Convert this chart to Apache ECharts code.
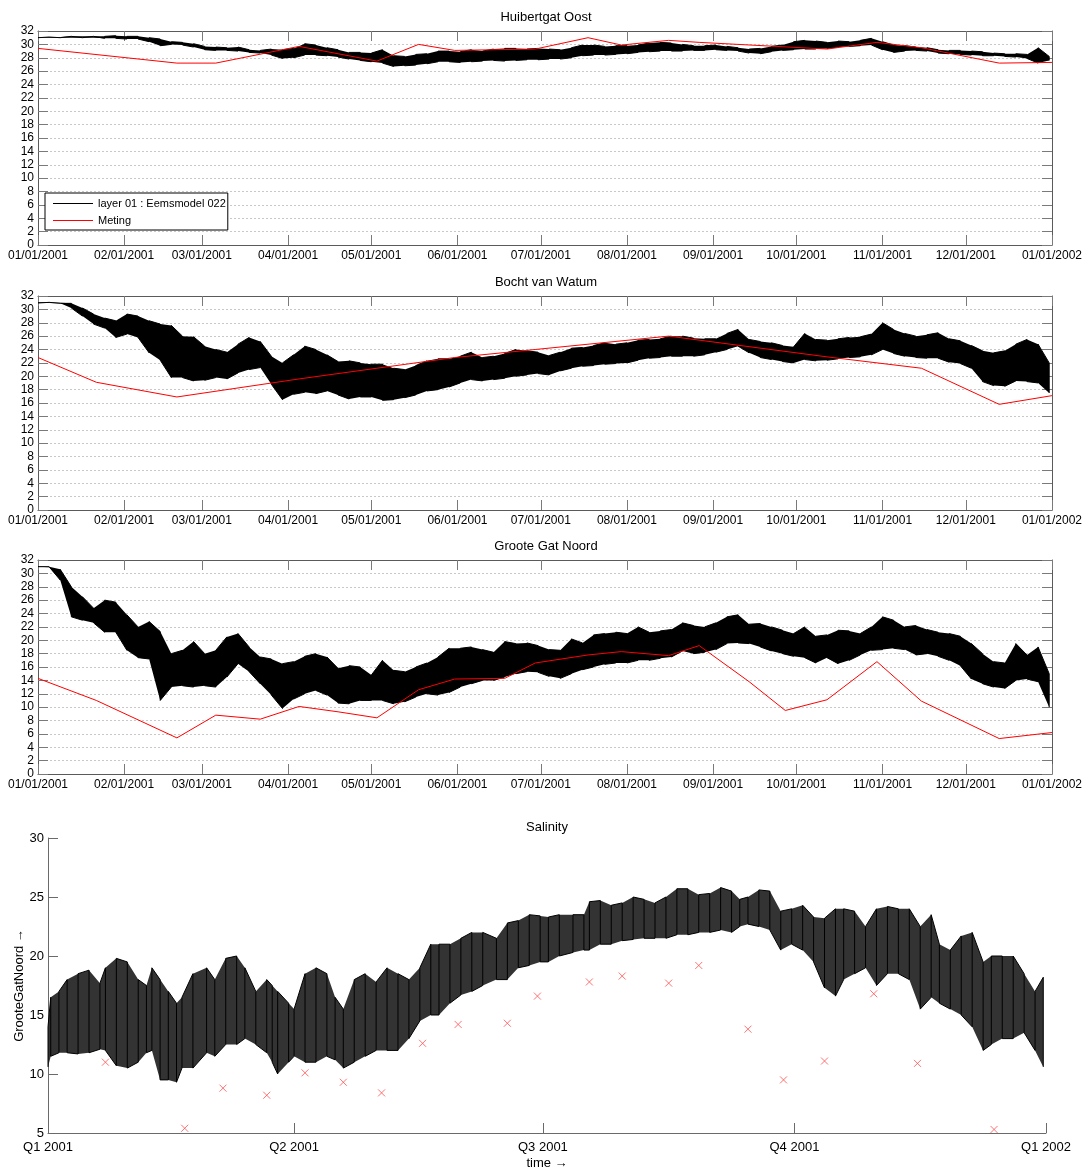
<!DOCTYPE html>
<html>
<head>
<meta charset="utf-8">
<script src="https://cdn.jsdelivr.net/npm/echarts@6/dist/echarts.min.js"></script>
<style>
  html, body { margin: 0; padding: 0; background: #fff; }
  #chart { width: 1085px; height: 1172px; }
</style>
</head>
<body>
<div id="chart"></div>
<script>
// ---- time frame (x values are UTC milliseconds) --------------------------
const DAY = 86400000;
const T0 = Date.UTC(2001, 0, 1);
const T1 = Date.UTC(2002, 0, 1);

const monthTicks = ['2001-01-01','2001-02-01','2001-03-01','2001-04-01','2001-05-01','2001-06-01',
  '2001-07-01','2001-08-01','2001-09-01','2001-10-01','2001-11-01','2001-12-01','2002-01-01'];
const quarterTicks = ['2001-01-01','2001-04-01','2001-07-01','2001-10-01','2002-01-01'];
const quarterLabels = ['Q1 2001','Q2 2001','Q3 2001','Q4 2001','Q1 2002'];

// ---- model output: low / high envelope of the tidal signal, per sample day
const sampleDays = [0,4,8,12,16,20,24,28,32,36,40,44,48,52,56,60,64,68,72,76,80,84,88,92,96,100,
  104,108,112,116,120,124,128,132,136,140,144,148,152,156,160,164,168,172,176,180,184,188,192,196,
  200,204,208,212,216,220,224,228,232,236,240,244,248,252,256,260,264,268,272,276,280,284,288,292,
  296,300,304,308,312,316,320,324,328,332,336,340,344,348,352,356,360,364];

// Huibertgat Oost
const hoLo = [31.0,31.0,31.0,31.0,31.0,31.0,30.9,30.9,30.8,30.8,
  30.4,29.8,30.0,29.9,29.6,29.2,29.1,29.1,29.0,28.8,
  28.7,28.4,27.9,28.0,28.4,28.4,28.3,28.1,27.8,27.6,
  27.4,27.2,26.7,26.8,26.9,27.1,27.4,27.4,27.3,27.4,
  27.5,27.6,27.5,27.6,27.7,27.7,27.8,27.8,28.0,28.3,
  28.4,28.4,28.5,28.6,28.8,28.9,29.0,29.0,29.0,29.1,
  29.1,29.2,29.1,29.0,28.7,28.6,28.9,29.1,29.2,29.3,
  29.3,29.4,29.6,29.7,29.8,29.9,29.2,28.8,29.0,29.1,
  29.0,28.7,28.6,28.5,28.4,28.3,28.3,28.2,28.1,27.9,
  27.2,27.6];
const hoHi = [31.05,31.1,31.1,31.2,31.2,31.2,31.2,31.3,31.2,31.2,
  31.0,30.8,30.4,30.3,30.1,29.7,29.6,29.5,29.6,29.2,
  29.1,29.3,29.2,29.4,30.1,29.9,29.5,29.2,28.8,28.8,
  28.7,29.2,28.3,28.2,28.5,28.6,29.0,29.0,28.9,29.2,
  29.0,29.3,29.4,29.4,29.3,29.4,29.3,29.2,29.5,29.9,
  29.9,29.7,29.8,29.8,29.9,30.2,30.3,30.2,30.0,29.8,
  29.8,29.9,29.7,29.5,29.3,29.4,29.7,29.9,30.4,30.6,
  30.5,30.3,30.5,30.4,30.6,30.9,30.4,29.9,29.8,29.6,
  29.5,29.2,29.1,29.1,29.0,28.9,28.7,28.6,28.6,28.5,
  29.5,28.2];

// Bocht van Watum
const bwLo = [30.95,30.95,30.9,30.2,29.0,27.8,27.2,25.8,26.3,25.8,
  23.5,22.4,19.8,19.8,19.3,19.4,19.8,19.6,20.5,21.0,
  21.3,18.8,16.5,17.3,17.6,17.4,17.8,17.2,16.6,16.9,
  16.9,16.4,16.5,16.8,17.2,17.8,18.0,18.4,19.0,19.5,
  19.3,19.5,19.7,20.0,20.2,20.4,20.2,20.8,21.2,21.5,
  21.6,21.8,21.9,22.0,22.4,22.7,22.8,23.0,23.0,23.0,
  23.2,23.6,24.0,24.5,23.5,22.8,22.5,22.2,22.0,22.5,
  22.3,22.4,22.6,22.8,22.9,23.2,24.0,23.4,23.0,22.8,
  22.7,22.7,22.1,21.9,21.2,19.2,18.6,18.5,19.3,19.2,
  19.0,17.5];
const bwHi = [31.05,31.05,31.0,30.9,30.2,29.3,28.7,28.3,29.3,29.0,
  28.3,27.8,27.6,26.0,25.9,24.5,24.0,23.6,24.8,25.8,
  25.2,23.0,22.0,23.2,24.5,24.0,23.2,22.2,22.3,22.0,
  21.8,21.8,21.2,21.0,21.6,22.3,22.6,22.6,23.0,23.6,
  22.8,23.0,23.4,24.0,23.8,23.6,23.1,23.6,24.2,24.3,
  24.6,25.0,24.8,25.0,25.4,25.5,25.6,26.0,26.0,25.7,
  25.6,25.6,26.4,27.0,25.5,25.2,25.0,24.6,24.4,26.4,
  25.5,25.4,25.6,25.8,25.9,26.3,28.0,27.0,26.4,26.0,
  26.2,26.5,25.6,25.3,24.6,23.8,23.5,23.8,24.8,25.5,
  24.8,22.0];

// Groote Gat Noord
const ggLo = [31.0,30.9,29.0,23.5,23.0,22.6,21.2,21.2,18.5,17.4,
  17.2,11.0,13.0,13.2,13.0,13.2,13.0,14.5,16.5,15.3,
  13.5,11.8,9.8,11.2,12.0,12.5,11.8,10.6,10.5,11.0,
  11.0,11.0,10.5,10.8,11.5,12.0,11.8,12.2,13.0,13.5,
  14.0,14.0,14.5,15.0,15.3,15.2,14.6,14.3,15.0,15.6,
  16.0,16.4,16.6,16.6,17.0,17.0,17.3,17.5,18.4,18.0,
  18.2,18.6,19.5,19.6,19.5,19.0,18.4,18.0,17.6,17.4,
  16.6,17.4,16.5,17.0,17.8,18.5,18.6,18.8,18.6,17.8,
  18.0,17.6,17.0,16.2,14.2,13.5,13.0,12.8,14.0,14.2,
  13.8,10.0];
const ggHi = [31.05,31.0,30.6,28.0,26.5,24.8,26.0,25.7,23.8,22.0,
  22.8,21.3,18.0,18.5,19.8,18.0,18.5,20.5,21.0,19.0,
  17.5,17.2,16.5,16.8,17.6,18.0,17.5,15.8,16.2,16.0,
  14.8,17.0,15.5,15.3,16.0,16.6,17.5,18.8,18.8,19.0,
  18.6,18.2,19.8,19.5,19.6,19.2,18.6,18.5,20.2,19.6,
  20.8,21.0,21.2,21.0,22.0,21.2,21.4,21.6,22.6,22.2,
  22.0,22.6,23.5,23.8,22.4,22.5,22.0,21.5,21.0,22.0,
  20.6,20.8,21.5,21.4,21.0,22.0,23.5,23.0,22.0,22.2,
  21.6,21.2,21.0,20.6,19.5,18.0,16.8,16.6,19.5,17.8,
  19.0,15.0];

// Salinity run at GrooteGatNoord (bottom panel)
const salDays = [0,1,4,7,11,15,19,21,25,29,33,36,38,41,44,47,49,53,58,61,
  65,69,72,76,80,82,84,88,90,94,98,102,105,108,112,116,120,124,128,132,
  136,140,143,147,151,155,159,164,168,172,176,180,183,187,192,196,198,202,206,210,
  214,218,222,226,230,234,238,242,246,250,253,256,260,264,268,272,276,280,284,288,
  291,295,299,303,307,311,315,319,323,326,330,334,338,342,345,349,353,357,361,364];
const salLo = [10.6,11.5,11.8,11.8,11.7,11.8,12.1,12.0,10.7,10.5,
  11.0,11.8,12.0,9.5,9.5,9.3,10.5,10.5,11.8,11.5,
  12.5,12.5,13.0,12.5,11.8,11.0,10.0,11.0,11.5,11.0,
  11.0,11.5,11.2,10.5,11.0,11.5,12.0,12.0,12.0,13.0,
  14.5,15.0,15.0,16.0,16.7,17.0,17.5,18.0,18.0,19.0,
  19.2,19.5,19.5,20.0,20.3,20.5,20.5,21.0,21.0,21.3,
  21.4,21.5,21.5,21.5,21.8,21.8,22.0,22.0,22.2,22.0,
  22.5,22.7,22.5,22.2,20.5,21.0,20.5,19.5,17.3,16.6,
  18.0,18.5,19.0,17.5,18.5,18.5,18.0,15.5,16.5,16.0,
  15.5,15.0,14.0,12.0,12.5,13.0,13.0,13.5,12.0,10.6];
const salHi = [14.0,16.5,17.0,18.0,18.5,18.8,17.7,19.0,19.8,19.5,
  18.0,17.5,19.0,18.0,17.0,16.0,16.5,18.5,19.0,18.0,
  19.8,20.0,19.0,17.0,18.0,17.5,17.0,16.0,15.5,18.5,
  19.0,18.5,16.5,15.5,18.0,18.5,17.8,19.0,18.5,18.0,
  19.0,21.0,21.0,21.0,21.5,22.0,22.0,21.5,22.8,23.0,
  23.5,23.4,23.3,23.5,23.5,23.5,24.6,24.7,24.3,24.5,
  25.0,24.8,24.5,25.0,25.7,25.7,25.2,25.3,25.8,25.5,
  24.8,25.0,25.6,25.5,23.8,24.0,24.3,23.3,23.2,24.0,
  24.0,23.8,22.5,24.0,24.2,24.0,24.0,22.5,23.5,21.0,
  20.5,21.7,22.0,19.5,20.0,20.0,20.0,18.5,17.0,18.2];

// ---- measurements ("Meting") -----------------------------------------
const hoMetDates = ['2001-01-01','2001-02-20','2001-03-06','2001-04-05','2001-05-03','2001-05-18',
  '2001-05-31','2001-06-29','2001-07-18','2001-07-30','2001-08-16','2001-08-27','2001-10-12',
  '2001-10-30','2001-11-15','2001-12-13','2002-01-01'];
const hoMetVals = [29.4,27.2,27.2,29.7,27.5,30.0,29.1,29.3,31.0,29.9,30.6,30.3,29.3,30.3,29.5,27.2,27.3];

const bwMetDates = ['2001-01-01','2001-01-22','2001-02-20','2001-04-05','2001-05-03','2001-05-31',
  '2001-06-29','2001-08-16','2001-10-12','2001-11-15','2001-12-13','2002-01-01'];
const bwMetVals = [22.8,19.1,16.9,19.6,21.2,22.8,24.0,26.0,22.9,21.2,15.8,17.1];

const ggMetDates = ['2001-01-22','2001-02-20','2001-03-06','2001-03-22','2001-04-05','2001-04-19',
  '2001-05-03','2001-05-18','2001-05-31','2001-06-18','2001-06-29','2001-07-18','2001-07-30',
  '2001-08-16','2001-08-27','2001-09-14','2001-09-27','2001-10-12','2001-10-30','2001-11-15',
  '2001-12-13'];
const ggMetVals = [11.0,5.4,8.8,8.2,10.1,9.3,8.4,12.6,14.2,14.3,16.6,17.8,18.3,17.7,19.2,13.8,9.5,
  11.1,16.8,10.9,5.3];
// line ends drawn in the Groote Gat Noord panel
const ggLineStart = ['2001-01-01', 14.3];
const ggLineEnd = ['2002-01-01', 6.2];

// ---- helpers ------------------------------------------------------------
const FONT = '"Liberation Sans", Arial, Helvetica, sans-serif';
const ts = d => T0 + d * DAY;
const dateTs = s => { const p = s.split('-').map(Number); return Date.UTC(p[0], p[1] - 1, p[2]); };
const pad2 = n => (n < 10 ? '0' : '') + n;
const fmtDate = v => { const d = new Date(v); return pad2(d.getUTCMonth() + 1) + '/' + pad2(d.getUTCDate()) + '/' + d.getUTCFullYear(); };
const monthTs = monthTicks.map(dateTs);
const quarterTs = quarterTicks.map(dateTs);

// filled envelope between low and high values
function bandSeries(axisIdx, days, lo, hi, fill) {
  return {
    type: 'custom', name: 'band', xAxisIndex: axisIdx, yAxisIndex: axisIdx, silent: true, z: 2,
    data: [[ts(days[0]), lo[0]]],
    renderItem: function (params, api) {
      const top = days.map((d, i) => api.coord([ts(d), hi[i]]));
      const bot = days.map((d, i) => api.coord([ts(d), lo[i]])).reverse();
      return { type: 'polygon', shape: { points: top.concat(bot) }, style: { fill: fill, stroke: null } };
    }
  };
}
// tidal strokes: vertical low-high segment at every sample
function strokeSeries(axisIdx, days, lo, hi, color) {
  const pts = [];
  days.forEach((d, i) => {
    const t = ts(d);
    if (i % 2 === 0) { pts.push([t, lo[i]], [t, hi[i]]); } else { pts.push([t, hi[i]], [t, lo[i]]); }
  });
  return {
    type: 'line', name: 'layer 01 : Eemsmodel 022', xAxisIndex: axisIdx, yAxisIndex: axisIdx,
    data: pts, showSymbol: false, symbol: 'none', z: 3, color: '#000',
    lineStyle: { color: color, width: 1 }
  };
}
function metLine(axisIdx, dates, vals) {
  return {
    type: 'line', name: 'Meting', xAxisIndex: axisIdx, yAxisIndex: axisIdx, z: 4,
    data: dates.map((s, i) => [dateTs(s), vals[i]]), showSymbol: false, symbol: 'none',
    color: '#ff0000', lineStyle: { color: '#ff0000', width: 1 }
  };
}

// ---- layout -------------------------------------------------------------
const stackTops = [31, 296, 560];
const stackTitles = ['Huibertgat Oost', 'Bocht van Watum', 'Groote Gat Noord'];
const frameColor = '#5a5a5a';
const tickColor = '#7a7a7a';

const grids = stackTops.map(t => ({ left: 38, top: t, width: 1017, height: 214 }));
grids.push({ left: 48, top: 838, width: 998, height: 295 });

const xAxes = [], yAxes = [];
stackTops.forEach((t, g) => {
  const base = {
    type: 'value', gridIndex: g, min: T0, max: T1,
    axisLine: { show: true, onZero: false, lineStyle: { color: frameColor, width: 1 } },
    axisTick: { show: true, inside: true, length: 10, customValues: monthTs, lineStyle: { color: tickColor, width: 1 } },
    splitLine: { show: false }
  };
  xAxes.push(Object.assign({}, base, {
    position: 'bottom',
    axisLabel: { show: true, customValues: monthTs, formatter: fmtDate, fontSize: 12, fontFamily: FONT, color: '#000', margin: 5 }
  }));
  xAxes.push(Object.assign({}, base, { position: 'top', axisLabel: { show: false } }));
  const ybase = {
    type: 'value', gridIndex: g, min: 0, max: 32, interval: 2,
    axisLine: { show: true, onZero: false, lineStyle: { color: frameColor, width: 1 } },
    axisTick: { show: true, inside: true, length: 10, lineStyle: { color: tickColor, width: 1 } }
  };
  yAxes.push(Object.assign({}, ybase, {
    position: 'left',
    axisLabel: { fontSize: 12, fontFamily: FONT, color: '#000', margin: 4 },
    splitLine: { show: true, lineStyle: { color: '#c8c8c8', width: 1, type: [2, 2] } }
  }));
  yAxes.push(Object.assign({}, ybase, { position: 'right', axisLabel: { show: false }, splitLine: { show: false } }));
});
// bottom panel axes
xAxes.push({
  type: 'value', gridIndex: 3, min: T0, max: T1, position: 'bottom',
  name: 'time \u2192', nameLocation: 'middle', nameGap: 24, nameMoveOverlap: false,
  nameTextStyle: { fontSize: 13, fontFamily: FONT, color: '#000' },
  axisLine: { show: true, onZero: false, lineStyle: { color: '#6a6a6a', width: 1 } },
  axisTick: { show: true, inside: true, length: 10, customValues: quarterTs, lineStyle: { color: '#6a6a6a' } },
  axisLabel: {
    customValues: quarterTs, fontSize: 13, fontFamily: FONT, color: '#000', margin: 8,
    formatter: v => quarterLabels[quarterTs.indexOf(v)] || ''
  },
  splitLine: { show: false }
});
yAxes.push({
  type: 'value', gridIndex: 3, min: 5, max: 30, interval: 5, position: 'left',
  name: 'GrooteGatNoord \u2192', nameLocation: 'middle', nameGap: 22, nameRotate: 90, nameMoveOverlap: false,
  nameTextStyle: { fontSize: 13, fontFamily: FONT, color: '#000' },
  axisLine: { show: true, onZero: false, lineStyle: { color: '#6a6a6a', width: 1 } },
  axisTick: { show: true, inside: true, length: 10, lineStyle: { color: '#6a6a6a' } },
  axisLabel: { fontSize: 13, fontFamily: FONT, color: '#000', margin: 4 },
  splitLine: { show: false }
});

// ---- series ---------------------------------------------------------------
const series = [
  bandSeries(0, sampleDays, hoLo, hoHi, '#000'),
  strokeSeries(0, sampleDays, hoLo, hoHi, '#000'),
  metLine(0, hoMetDates, hoMetVals),

  bandSeries(2, sampleDays, bwLo, bwHi, '#000'),
  strokeSeries(2, sampleDays, bwLo, bwHi, '#000'),
  metLine(2, bwMetDates, bwMetVals),

  bandSeries(4, sampleDays, ggLo, ggHi, '#000'),
  strokeSeries(4, sampleDays, ggLo, ggHi, '#000'),
  metLine(4, [ggLineStart[0]].concat(ggMetDates, [ggLineEnd[0]]), [ggLineStart[1]].concat(ggMetVals, [ggLineEnd[1]])),

  bandSeries(6, salDays, salLo, salHi, '#333'),
  strokeSeries(6, salDays, salLo, salHi, '#000'),
  {
    type: 'scatter', name: 'Meting', xAxisIndex: 6, yAxisIndex: 6, z: 5,
    data: ggMetDates.map((s, i) => [dateTs(s), ggMetVals[i]]),
    symbol: 'path://M0,0L10,10M10,0L0,10', symbolSize: 7,
    itemStyle: { color: 'rgba(0,0,0,0)', borderColor: '#ff5050', borderWidth: 1 }
  }
];

const titleStyle = { fontSize: 13, fontWeight: 'normal', fontFamily: FONT, color: '#000' };
const titles = stackTitles.map((txt, g) => ({
  text: txt, left: 546, top: stackTops[g] - 20, textAlign: 'center', padding: 0, textStyle: titleStyle
}));
titles.push({ text: 'Salinity', left: 547, top: 821, textAlign: 'center', padding: 0, textStyle: titleStyle });

const chart = echarts.init(document.getElementById('chart'), null, { renderer: 'canvas' });
chart.setOption({
  animation: false,
  backgroundColor: '#fff',
  textStyle: { fontFamily: FONT },
  title: titles,
  legend: {
    data: ['layer 01 : Eemsmodel 022', 'Meting'],
    orient: 'vertical', left: 45, top: 193,
    backgroundColor: '#fff', borderColor: '#000', borderWidth: 1, borderRadius: 0,
    padding: [4, 2, 3, 8], itemGap: 4, itemWidth: 40, itemHeight: 1, icon: 'rect',
    selectedMode: false,
    textStyle: { fontSize: 11, fontFamily: FONT, color: '#000', lineHeight: 13 }
  },
  grid: grids,
  xAxis: xAxes,
  yAxis: yAxes,
  series: series
});
</script>
</body>
</html>
